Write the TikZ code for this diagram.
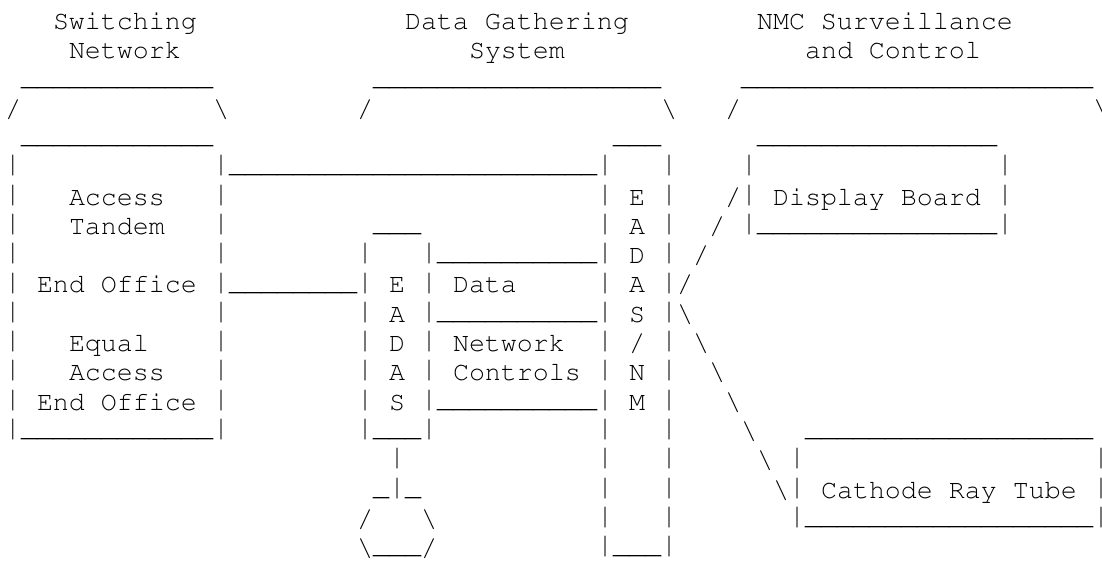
\documentclass[tikz,border=0pt]{standalone}
\usepackage[T1]{fontenc}
\usepackage{courier}
\usepackage{graphicx}
\tikzstyle{ascii} = [inner sep=0pt, outer sep=0pt, anchor=base west,
font=\ttfamily\fontsize{13.33}{14.65}\selectfont]
\tikzstyle{boxtext} = [ascii]
% bar and underscore glyphs stretched to fill the line as on a terminal
\newcommand{\vglyph}{\raisebox{-2.2pt}{\resizebox*{\width}{14.2pt}{\raisebox{\depth}{|}}}}
\newcommand{\uglyph}{\raisebox{1.4pt}{\_}}
\newcommand{\colbar}[3]{ %
  % One bar glyph per row: column #1, rows #2 to #3.
  \foreach \y in {#2,...,#3} { %
    \node[ascii] at (#1,\y) {\vglyph} ;%
  } ;
}
\newcommand{\rowline}[3]{ %
  % Underscores from column #1 to column #2 in row #3.
  \foreach \x in {#1,...,#2} { %
    \node[ascii] at (\x,#3) {\uglyph} ;%
  } ;
}

\begin{document}
\begin{tikzpicture}[x=8pt,y=-14.65pt]
  \useasboundingbox (-0.3125,-0.997) rectangle (68.5625,18.116);

  % headings
  \node[boxtext] (sw) at (3,0) {Switching} ; %
  \node[boxtext] (swnet) at (4,1) {Network} ; %
  \node[boxtext] (dg) at (25,0) {Data Gathering} ; %
  \node[boxtext] (dgsys) at (29,1) {System} ; %
  \node[boxtext] (nmc) at (47,0) {NMC Surveillance} ; %
  \node[boxtext] (nmcctl) at (50,1) {and Control} ; %

  % brackets under the headings
  \rowline{1}{12}{2} \rowline{23}{40}{2} \rowline{46}{67}{2}
  \foreach \x in {0,22,45} \node[ascii] at (\x,3) {/} ;
  \foreach \x in {13,41,68} \node[ascii] at (\x,3) {\textbackslash} ;

  % switching network box
  \rowline{1}{12}{4}
  \colbar{0}{5}{14} \colbar{13}{5}{14}
  \rowline{1}{12}{14}
  \node[boxtext] (acc) at (4,6) {Access} ; %
  \node[boxtext] (tan) at (4,7) {Tandem} ; %
  \node[boxtext] (eo) at (2,9) {End Office} ; %
  \node[boxtext] (eq) at (4,11) {Equal} ; %
  \node[boxtext] (eqacc) at (4,12) {Access} ; %
  \node[boxtext] (eqeo) at (2,13) {End Office} ; %

  % trunks
  \rowline{14}{36}{5}
  \rowline{14}{21}{9}

  % EADAS
  \rowline{23}{25}{7}
  \colbar{22}{8}{14} \colbar{26}{8}{14}
  \rowline{23}{25}{14}
  \foreach \l [count=\y from 9] in {E,A,D,A,S} \node[ascii] at (24,\y) {\l} ;

  % data and network controls
  \rowline{27}{36}{8} \rowline{27}{36}{10} \rowline{27}{36}{13}
  \node[boxtext] (data) at (28,9) {Data} ; %
  \node[boxtext] (netw) at (28,11) {Network} ; %
  \node[boxtext] (ctl) at (28,12) {Controls} ; %

  % storage under EADAS
  \colbar{24}{15}{16}
  \node[ascii] at (23,16) {\uglyph} ; \node[ascii] at (25,16) {\uglyph} ;
  \node[ascii] at (22,17) {/} ; \node[ascii] at (26,17) {\textbackslash} ;
  \node[ascii] at (22,18) {\textbackslash} ; \node[ascii] at (26,18) {/} ;
  \rowline{23}{25}{18}

  % EADAS/NM
  \rowline{38}{40}{4}
  \colbar{37}{5}{18} \colbar{41}{5}{18}
  \rowline{38}{40}{18}
  \foreach \l [count=\y from 6] in {E,A,D,A,S,/,N,M} \node[ascii] at (39,\y) {\l} ;

  % display board
  \rowline{47}{61}{4}
  \colbar{46}{5}{7} \colbar{62}{5}{7}
  \rowline{47}{61}{7}
  \node[boxtext] (disp) at (48,6) {Display Board} ; %

  % cathode ray tube
  \rowline{50}{67}{14}
  \colbar{49}{15}{17} \colbar{68}{15}{17}
  \rowline{50}{67}{17}
  \node[boxtext] (crt) at (51,16) {Cathode Ray Tube} ; %

  % links from EADAS/NM
  \foreach \x/\y in {45/6,44/7,43/8,42/9} \node[ascii] at (\x,\y) {/} ;
  \foreach \x/\y in {42/10,43/11,44/12,45/13,46/14,47/15,48/16}
    \node[ascii] at (\x,\y) {\textbackslash} ;
\end{tikzpicture}
\end{document}
